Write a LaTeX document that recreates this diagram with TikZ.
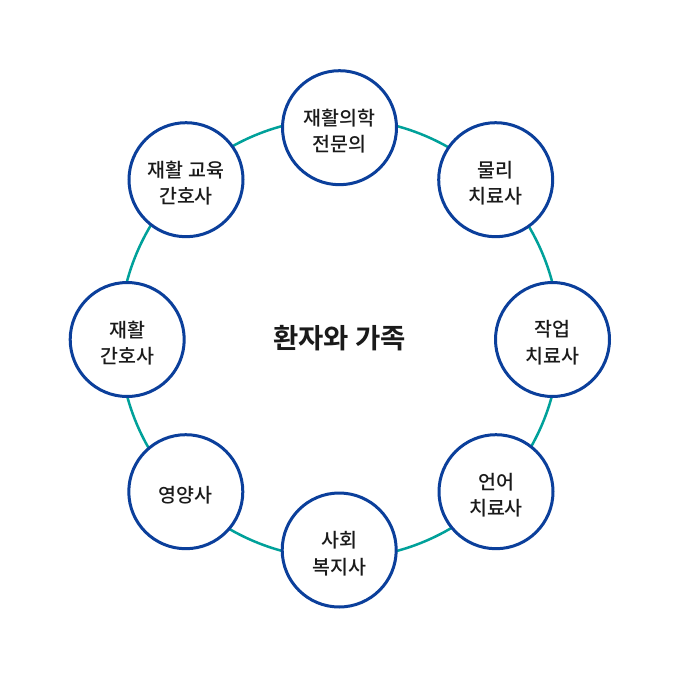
\documentclass[tikz,border=0pt]{standalone}
\usepackage{fontspec}
\setmainfont{Noto Sans CJK KR}[BoldFont={Noto Sans CJK KR Bold}]
\newfontfamily\krmed{Noto Sans CJK KR Medium}
\definecolor{ringteal}{HTML}{00A19A}
\definecolor{nodeblue}{HTML}{0B3F9B}
\definecolor{txt}{HTML}{1A1A1A}
\tikzset{
  role/.style={circle, draw=nodeblue, line width=3pt, fill=white, minimum size=114pt, inner sep=0pt},
  roletext/.style={align=center, text=txt, yshift=-3.5pt, font=\krmed\fontsize{19.5}{26.7}\selectfont},
  hub/.style={text=txt, font=\fontsize{27.5}{30}\selectfont\bfseries},
  ring/.style={draw=ringteal, line width=2.5pt}
}
\begin{document}
\begin{tikzpicture}[x=1pt,y=-1pt]
\useasboundingbox[fill=white] (0,0) rectangle (680,680);
\node[hub] (center) at (339.5,338.5) {환자와 가족};
\draw[ring] (center.center) circle[radius=220];
\node[role, label={[roletext]center:재활의학\\전문의}] (n1) at (339.5,127.7) {};
\node[role, label={[roletext]center:물리\\치료사}] (n2) at (495.7,179.7) {};
\node[role, label={[roletext]center:작업\\치료사}] (n3) at (552.5,339.5) {};
\node[role, label={[roletext]center:언어\\치료사}] (n4) at (496,491.7) {};
\node[role, label={[roletext]center:사회\\복지사}] (n5) at (339.2,550) {};
\node[role, label={[roletext]center:영양사}] (n6) at (185.8,491.7) {};
\node[role, label={[roletext]center:재활\\간호사}] (n7) at (127.2,339.5) {};
\node[role, label={[roletext]center:재활 교육\\간호사}] (n8) at (186,179.7) {};
\end{tikzpicture}
\end{document}
